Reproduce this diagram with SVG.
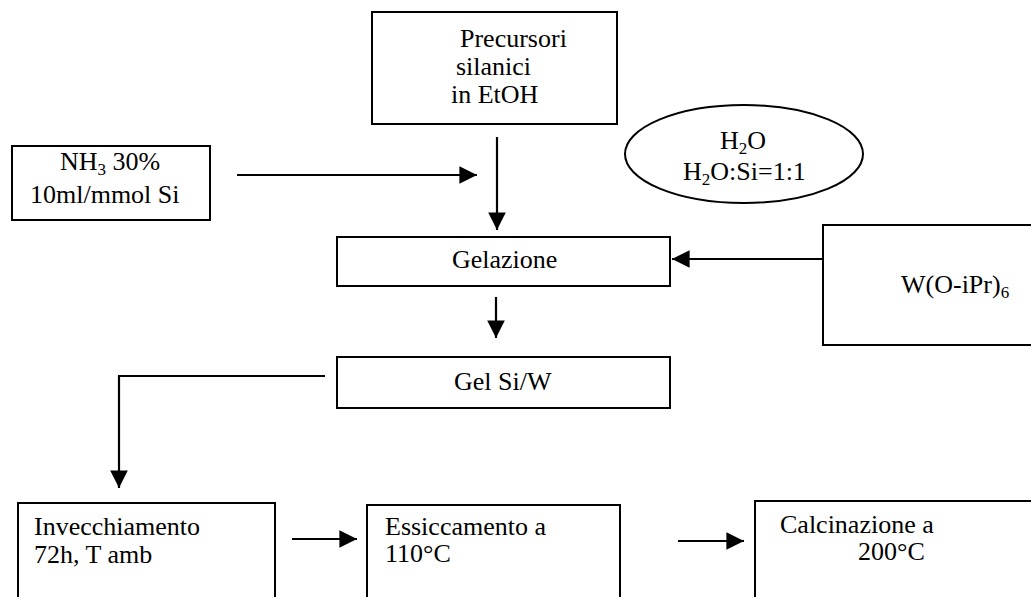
<svg xmlns="http://www.w3.org/2000/svg" width="1031" height="597" viewBox="0 0 1031 597">
<defs>
<style>
.box{fill:#fff;stroke:#000;stroke-width:2}
.t{font-family:"Liberation Serif","Times New Roman",serif;font-size:26px;fill:#000}
.s{font-size:17px}
.ln{fill:none;stroke:#000;stroke-width:2.2}
</style>
<marker id="ah" viewBox="0 0 10 10" refX="10" refY="5" markerWidth="8" markerHeight="8" orient="auto" markerUnits="strokeWidth">
<path d="M0,0 L10,5 L0,10 z" fill="#000"/>
</marker>
</defs>
<rect width="1031" height="597" fill="#fff"/>
<g id="precursori">
<rect class="box" x="372" y="12" width="245" height="112"/>
<text class="t" x="460" y="47">Precursori</text>
<text class="t" x="456" y="75">silanici</text>
<text class="t" x="451" y="103">in EtOH</text>
</g>
<g id="nh3">
<rect class="box" x="12" y="146" width="198" height="74"/>
<text class="t" x="60" y="170">NH<tspan class="s" dy="5">3</tspan><tspan dy="-5"> 30%</tspan></text>
<text class="t" x="30" y="203">10ml/mmol Si</text>
</g>
<g id="h2o">
<ellipse class="box" cx="744" cy="154" rx="119" ry="49"/>
<text class="t" x="720" y="149">H<tspan class="s" dy="5">2</tspan><tspan dy="-5">O</tspan></text>
<text class="t" x="683" y="180">H<tspan class="s" dy="5">2</tspan><tspan dy="-5">O:Si=1:1</tspan></text>
</g>
<g id="gelazione">
<rect class="box" x="337" y="237" width="333" height="49"/>
<text class="t" x="452" y="268">Gelazione</text>
</g>
<g id="w">
<rect class="box" x="823" y="225" width="220" height="120"/>
<text class="t" x="901" y="293">W(O-iPr)<tspan class="s" dy="5">6</tspan></text>
</g>
<g id="gel">
<rect class="box" x="337" y="357" width="333" height="51"/>
<text class="t" x="454" y="390">Gel Si/W</text>
</g>
<g id="invecchiamento">
<rect class="box" x="18" y="503" width="257" height="110"/>
<text class="t" x="34" y="535">Invecchiamento</text>
<text class="t" x="34" y="563">72h, T amb</text>
</g>
<g id="essiccamento">
<rect class="box" x="367" y="505" width="253" height="110"/>
<text class="t" x="385" y="535">Essiccamento a</text>
<text class="t" x="385" y="562">110°C</text>
</g>
<g id="calcinazione">
<rect class="box" x="755" y="501" width="290" height="110"/>
<text class="t" x="780" y="533">Calcinazione a</text>
<text class="t" x="858" y="560">200°C</text>
</g>
<g id="connectors">
<line class="ln" x1="237" y1="175" x2="477" y2="175" marker-end="url(#ah)"/>
<line class="ln" x1="497" y1="137" x2="497" y2="230" marker-end="url(#ah)"/>
<line class="ln" x1="823" y1="259" x2="672" y2="259" marker-end="url(#ah)"/>
<line class="ln" x1="496" y1="297" x2="496" y2="338" marker-end="url(#ah)"/>
<polyline class="ln" points="325,376 119,376 119,488" marker-end="url(#ah)"/>
<line class="ln" x1="292" y1="539" x2="357" y2="539" marker-end="url(#ah)"/>
<line class="ln" x1="678" y1="541" x2="744" y2="541" marker-end="url(#ah)"/>
</g>
</svg>
